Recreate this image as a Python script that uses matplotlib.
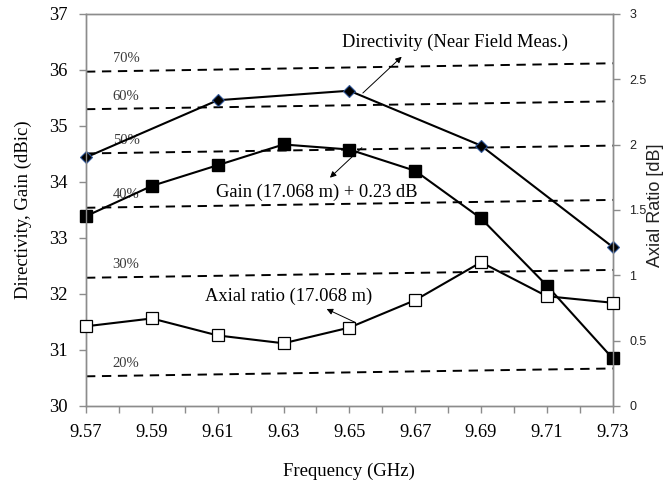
import matplotlib
matplotlib.use('Agg')
import matplotlib.pyplot as plt
import numpy as np

plt.rcParams['font.family'] = ['Liberation Serif', 'DejaVu Serif']

# frequency grid (GHz)
freq = [9.57, 9.59, 9.61, 9.63, 9.65, 9.67, 9.69, 9.71, 9.73]

# directivity from near field measurement (every other frequency)
dirFreq = [9.57, 9.61, 9.65, 9.69, 9.73]
directivity = [34.44, 35.46, 35.63, 34.65, 32.84]

# gain (17.068 m) + 0.23 dB
gain = [33.39, 33.93, 34.30, 34.67, 34.58, 34.20, 33.35, 32.15, 30.85]

# axial ratio (dB), right axis
axialRatio = [0.61, 0.67, 0.54, 0.48, 0.60, 0.81, 1.10, 0.84, 0.79]

# aperture efficiency reference lines, value at 9.57 and at 9.73 GHz
effLabels = ['70%', '60%', '50%', '40%', '30%', '20%']
effStart = [35.97, 35.30, 34.51, 33.54, 32.29, 30.53]
effEnd = [36.12, 35.44, 34.65, 33.68, 32.43, 30.67]
effEnds = [9.57, 9.73]

gray = '#8c8c8c'

fig = plt.figure(figsize=(6.66, 4.82), dpi=100)
ax = fig.add_axes([86 / 666, 1 - 406 / 482, 526.7 / 666, 392 / 482])
ax2 = ax.twinx()

# efficiency lines
for lab, y0, y1 in zip(effLabels, effStart, effEnd):
    ax.plot(effEnds, [y0, y1], color='black', lw=1.4, dashes=(4.8, 3.4), zorder=2)
    ax.annotate(lab, xy=(9.5822, y0 + (y1 - y0) * 0.0822 / 0.16), xytext=(0, 6.5),
                textcoords='offset points', ha='center', va='center',
                fontsize=10.5, color='#3a3a3a', zorder=3)

ax.plot(dirFreq, directivity, color='black', lw=1.5, marker='D', ms=6,
        mfc='black', mec='#2f5597', mew=0.8, zorder=5, clip_on=False)
ax.plot(freq, gain, color='black', lw=1.5, marker='s', ms=8.5,
        mfc='black', mec='black', zorder=5, clip_on=False)
ax2.plot(freq, axialRatio, color='black', lw=1.5, marker='s', ms=9,
         mfc='white', mec='black', mew=0.9, zorder=5, clip_on=False)

# annotations
arrow = dict(arrowstyle='-|>', color='black', lw=0.7, mutation_scale=9,
             shrinkA=0, shrinkB=0)
ax.annotate('', xy=(9.6659, 36.237), xytext=(9.6541, 35.589), arrowprops=arrow)
ax.text(9.6821, 36.5, 'Directivity (Near Field Meas.)', ha='center', va='center',
        fontsize=13.3)
ax.annotate('', xy=(9.6441, 34.077), xytext=(9.6538, 34.613), arrowprops=arrow)
ax.text(9.6401, 33.81, 'Gain (17.068 m) + 0.23 dB', ha='center', va='center',
        fontsize=13.3)
ax.annotate('', xy=(9.6431, 31.732), xytext=(9.6517, 31.495), arrowprops=arrow)
ax.text(9.6315, 31.96, 'Axial ratio (17.068 m)', ha='center', va='center',
        fontsize=13.3)

ax.set_xlim(9.57, 9.73)
ax.set_ylim(30, 37)
ax2.set_ylim(0, 3)

ax.set_xticks(freq)
ax.set_xticklabels(['%.2f' % f for f in freq])
ax.set_xticks(np.arange(9.58, 9.73, 0.02), minor=True)
ax.set_yticks(range(30, 38))
ax2.set_yticks([0, 0.5, 1, 1.5, 2, 2.5, 3])
ax2.set_yticklabels(['0', '0.5', '1', '1.5', '2', '2.5', '3'])

for a in (ax, ax2):
    for s in a.spines.values():
        s.set_color(gray)
        s.set_linewidth(1.0)
ax.tick_params(axis='x', which='both', direction='out', length=5, width=1,
               color=gray, pad=8, labelsize=13.3)
ax.tick_params(axis='y', direction='out', length=5, width=1, color=gray,
               pad=8, labelsize=13.3)
ax2.tick_params(axis='y', direction='out', length=5, width=1, color=gray,
                pad=7, labelsize=9)
for t in ax2.get_yticklabels():
    t.set_fontfamily('Liberation Sans')
    t.set_color('#222222')

ax.set_xlabel('Frequency (GHz)', fontsize=13.5)
ax.xaxis.set_label_coords(0.5, -0.145)
ax.set_ylabel('Directivity, Gain (dBic)', fontsize=13.5)
ax.yaxis.set_label_coords(-0.103, 0.5)
fig.text(656 / 666, 1 - 205 / 482, 'Axial Ratio [dB]', rotation=90, ha='center',
         va='center', fontsize=13, family='Liberation Sans', color='#222222')

fig.savefig('out.png', dpi=100)
